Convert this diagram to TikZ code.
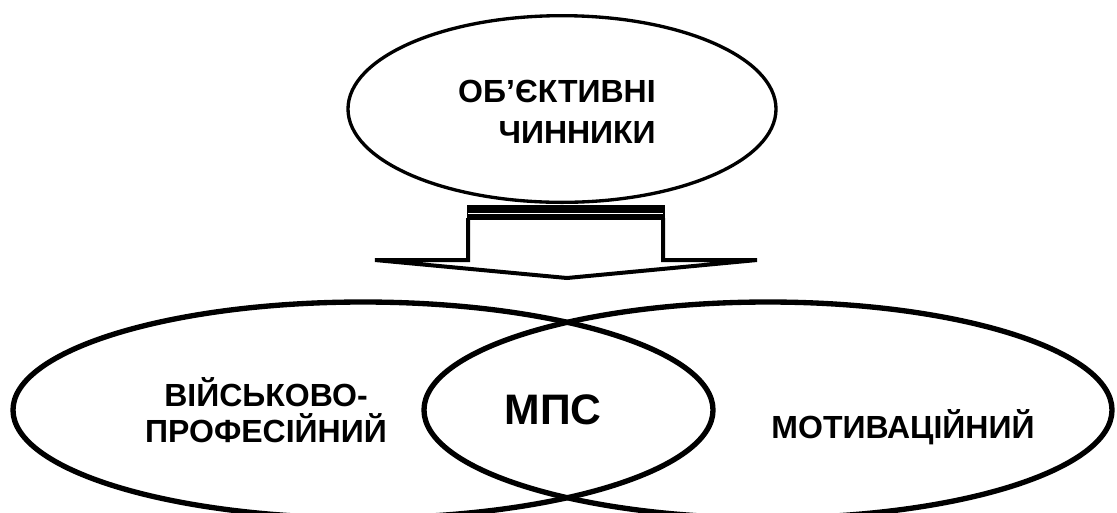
\documentclass[tikz,border=0pt]{standalone}
\usepackage{fontspec}
\setmainfont{Liberation Sans}
\usetikzlibrary{shapes.geometric,positioning}
\tikzset{
	oval/.style={draw, ellipse, line width=4pt, inner sep=0pt},
	caption/.style={font=\bfseries\fontsize{24}{27}\selectfont, align=center, inner sep=0pt},
	arrowline/.style={line width=3pt, line join=miter}
}
\begin{document}
\begin{tikzpicture}[x=0.75pt,y=-0.75pt]
			\useasboundingbox (0,0) rectangle (1117,512);
			\node(Obyektyvni)	[oval, line width=2.5pt, minimum width=321pt, minimum height=140pt] at (562,109) {};
			\node(Viyskovo)		[oval, minimum width=525pt, minimum height=162pt] at (363,410) {};
			\node(Motyvatsiya)	[oval, minimum width=516pt, minimum height=162pt] at (768,410) {};
			\node(ObyektyvniText)	[caption, align=right, anchor=east, font=\bfseries\fontsize{24}{30.75}\selectfont] at (656,112) {ОБ’ЄКТИВНІ\\ЧИННИКИ};
			\node(ViyskovoText)	[caption] at (266,410) {ВІЙСЬКОВО-\\ПРОФЕСІЙНИЙ};
			\node(MPS)			[caption, font=\bfseries\fontsize{32}{38}\selectfont] at (553,410) {МПС};
			\node(MotyvatsiyaText)	[caption] at (903,427) {МОТИВАЦІЙНИЙ};
			% block arrow
			\coordinate(ArrowTip) at (567,278);
			\draw[arrowline] (468,218) -- (468,260) -- (375,260) -- (ArrowTip) -- (757,260) -- (663,260) -- (663,218);
			\fill (466.5,205) rectangle (664.5,219.5);
			\draw[white, line width=1pt] (468,213.3) -- (663,213.3);
		\end{tikzpicture}
\end{document}
